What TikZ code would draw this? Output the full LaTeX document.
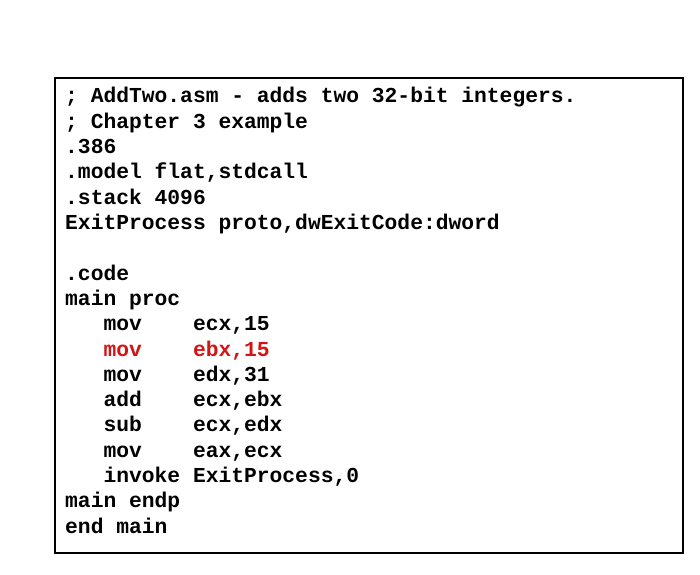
\documentclass[tikz,border=0pt]{standalone}
\usepackage{fontspec}
\setmonofont{Liberation Mono}
\definecolor{hl}{RGB}{210,20,20}
\begin{document}
\begin{tikzpicture}[x=1pt,y=1pt,
  code/.style={anchor=base west,inner sep=0pt,font=\ttfamily\bfseries\fontsize{21.3}{25}\selectfont}]
\useasboundingbox (0,0) rectangle (700,574);
\draw[line width=1.2pt] (55,21) rectangle (683,496) node[coordinate](frame){};
\def\L#1#2#3{\node[code,#3] (l#1) at (65,{574-103-25.3*#1}) {#2};}
\def\C#1#2#3#4{\node[code,#4] (a#1) at (103.3,{574-103-25.3*#1}) {#2};
  \node[code,#4] (b#1) at (192.8,{574-103-25.3*#1}) {#3};}
\L{0}{; AddTwo.asm - adds two 32-bit integers.}{}
\L{1}{; Chapter 3 example}{}
\L{2}{.386}{}
\L{3}{.model flat,stdcall}{}
\L{4}{.stack 4096}{}
\L{5}{ExitProcess proto,dwExitCode:dword}{}
\L{7}{.code}{}
\L{8}{main proc}{}
\C{9}{mov}{ecx,15}{}
\C{10}{mov}{ebx,15}{text=hl}
\C{11}{mov}{edx,31}{}
\C{12}{add}{ecx,ebx}{}
\C{13}{sub}{ecx,edx}{}
\C{14}{mov}{eax,ecx}{}
\C{15}{invoke}{ExitProcess,0}{}
\L{16}{main endp}{}
\L{17}{end main}{}
\end{tikzpicture}
\end{document}
